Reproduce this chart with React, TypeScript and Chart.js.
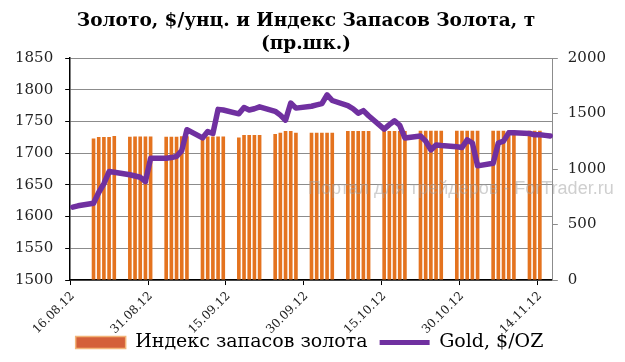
import React, { useEffect, useRef } from 'react';
import { Chart, registerables } from 'chart.js';

Chart.register(...registerables);

const titleLines = ['Золото, $/унц. и Индекс Запасов Золота, т', '(пр.шк.)'];
const barLabel = 'Индекс запасов золота';
const lineLabel = 'Gold, $/OZ';
const watermark = 'Портал для трейдеров - ForTrader.ru';

const dates = [
  '16.08.12', '17.08.12', '18.08.12', '19.08.12', '20.08.12', '21.08.12', '22.08.12', '23.08.12',
  '24.08.12', '25.08.12', '26.08.12', '27.08.12', '28.08.12', '29.08.12', '30.08.12', '31.08.12',
  '01.09.12', '02.09.12', '03.09.12', '04.09.12', '05.09.12', '06.09.12', '07.09.12', '08.09.12',
  '09.09.12', '10.09.12', '11.09.12', '12.09.12', '13.09.12', '14.09.12', '15.09.12', '16.09.12',
  '17.09.12', '18.09.12', '19.09.12', '20.09.12', '21.09.12', '22.09.12', '23.09.12', '24.09.12',
  '25.09.12', '26.09.12', '27.09.12', '28.09.12', '29.09.12', '30.09.12', '01.10.12', '02.10.12',
  '03.10.12', '04.10.12', '05.10.12', '06.10.12', '07.10.12', '08.10.12', '09.10.12', '10.10.12',
  '11.10.12', '12.10.12', '13.10.12', '14.10.12', '15.10.12', '16.10.12', '17.10.12', '18.10.12',
  '19.10.12', '20.10.12', '21.10.12', '22.10.12', '23.10.12', '24.10.12', '25.10.12', '26.10.12',
  '27.10.12', '28.10.12', '29.10.12', '30.10.12', '31.10.12', '01.11.12', '02.11.12', '03.11.12',
  '04.11.12', '05.11.12', '06.11.12', '07.11.12', '08.11.12', '09.11.12', '10.11.12', '11.11.12',
  '12.11.12', '13.11.12', '14.11.12', '15.11.12', '16.11.12',
];

// Gold, $/oz (left axis); null = weekend
const goldValues: (number | null)[] = [
  1615, 1617, null, null,
  1621, 1638, 1652, 1671, 1670, null, null,
  1666, 1664, 1662, 1655, 1692, null, null,
  1692, 1693, 1695, 1704, 1737, null, null,
  1724, 1734, 1731, 1769, 1768, null, null,
  1762, 1772, 1768, 1770, 1773, null, null,
  1766, 1760, 1752, 1779, 1771, null, null,
  1774, 1776, 1778, 1792, 1783, null, null,
  1775, 1770, 1763, 1767, 1759, null, null,
  1738, 1745, 1751, 1744, 1724, null, null,
  1727, 1719, 1705, 1713, 1712, null, null,
  1710, 1709, 1721, 1716, 1680, null, null,
  1684, 1716, 1719, 1732, 1732, null, null,
  1731, 1729, 1729, 1728, 1727,
];

// Gold stock index, t (right axis); null = no data
const indexValues: (number | null)[] = [
  null, null, null, null,
  1276, 1288, 1288, 1288, 1297, null, null,
  1291, 1292, 1292, 1292, 1292, null, null,
  1291, 1291, 1291, 1295, 1295, null, null,
  1292, 1292, 1292, 1292, 1292, null, null,
  1285, 1306, 1306, 1306, 1306, null, null,
  1315, 1327, 1342, 1342, 1327, null, null,
  1327, 1327, 1327, 1327, 1327, null, null,
  1342, 1342, 1342, 1342, 1342, null, null,
  1342, 1342, 1342, 1342, 1342, null, null,
  1345, 1345, 1345, 1345, 1345, null, null,
  1345, 1345, 1345, 1345, 1345, null, null,
  1345, 1345, 1345, 1345, 1345, null, null,
  1345, 1345, 1345, null, null,
];

const leftMin = 1500;
const leftMax = 1850;
const leftStep = 50;
const rightMin = 0;
const rightMax = 2000;
const rightStep = 500;
const labelEvery = 15;

const BAR_COLOR = '#E4731F';
const LINE_COLOR = '#7030A0';
const GRID_COLOR = '#8C8C8C';
const SERIF = '"DejaVu Serif", serif';

const titlePlugin = {
  id: 'customTitle',
  afterDraw(chart: any) {
    const ctx = chart.ctx;
    ctx.save();
    ctx.font = 'bold 18.5px "DejaVu Serif", serif';
    ctx.fillStyle = '#000';
    ctx.textAlign = 'center';
    ctx.textBaseline = 'middle';
    ctx.fillText(titleLines[0], 306, 21);
    ctx.fillText(titleLines[1], 306, 44);
    ctx.restore();
  },
};

const watermarkPlugin = {
  id: 'watermark',
  afterDraw(chart: any) {
    const ctx = chart.ctx;
    ctx.save();
    ctx.font = '18px "Liberation Sans", Arial, sans-serif';
    ctx.fillStyle = 'rgba(160,160,160,0.5)';
    ctx.textBaseline = 'middle';
    ctx.textAlign = 'left';
    ctx.fillText(watermark, 308, 189);
    ctx.restore();
  },
};

export default function App() {
  const canvasRef = useRef<HTMLCanvasElement | null>(null);

  useEffect(() => {
    if (!canvasRef.current) return;
    const chart = new Chart(canvasRef.current, {
      type: 'bar',
      data: {
        labels: dates,
        datasets: [
          {
            type: 'bar',
            label: barLabel,
            data: indexValues,
            yAxisID: 'y2',
            backgroundColor: BAR_COLOR,
            borderWidth: 0,
            barPercentage: 0.7,
            categoryPercentage: 1.0,
            order: 2,
          },
          {
            type: 'line',
            label: lineLabel,
            data: goldValues,
            yAxisID: 'y',
            borderColor: LINE_COLOR,
            backgroundColor: LINE_COLOR,
            borderWidth: 5.5,
            pointRadius: 0,
            pointStyle: 'line',
            spanGaps: true,
            tension: 0,
            borderJoinStyle: 'round',
            borderCapStyle: 'round',
            order: 1,
          } as any,
        ],
      },
      options: {
        responsive: false,
        animation: false,
        layout: { padding: { left: 3, right: 9, top: 58, bottom: 0 } },
        plugins: {
          title: { display: false },
          legend: {
            position: 'bottom',
            labels: {
              usePointStyle: true,
              pointStyleWidth: 50,
              boxHeight: 12,
              color: '#000',
              font: { family: SERIF, size: 19 },
              padding: 0,
              sort: (a: any, b: any) => a.datasetIndex - b.datasetIndex,
              generateLabels: (chart: any) => {
                const items = Chart.defaults.plugins.legend.labels.generateLabels(chart);
                return items.map((it: any) => {
                  if (it.datasetIndex === 0) {
                    return {
                      ...it,
                      text: it.text + '  ',
                      pointStyle: 'rect',
                      fillStyle: '#D4603A',
                      strokeStyle: '#F2B478',
                      lineWidth: 1.5,
                    };
                  }
                  return { ...it, pointStyle: 'line', fillStyle: LINE_COLOR, strokeStyle: LINE_COLOR, lineWidth: 5 };
                });
              },
            },
          },
          tooltip: { enabled: false },
        },
        scales: {
          x: {
            type: 'category',
            offset: true,
            afterFit: (scale: any) => {
              scale.paddingLeft = 0;
              scale.paddingRight = 0;
              scale.height = scale.height - 8;
            },
            grid: {
              offset: true,
              drawOnChartArea: false,
              drawTicks: true,
              tickLength: 5,
              color: (ctx: any) => (ctx.index % labelEvery === 0 ? '#000' : 'rgba(0,0,0,0)'),
            },
            border: { display: true, color: '#000', width: 1.5 },
            ticks: {
              autoSkip: false,
              maxRotation: 45,
              minRotation: 45,
              padding: 4,
              color: '#222',
              font: { family: SERIF, size: 12 },
              callback: (_v: any, i: number) => (i % labelEvery === 0 ? dates[i] : ''),
            },
          },
          y: {
            position: 'left',
            min: leftMin,
            max: leftMax,
            ticks: {
              stepSize: leftStep,
              color: '#222',
              font: { family: SERIF, size: 15 },
              padding: 12,
              callback: (v: any) => String(v),
            },
            grid: { color: GRID_COLOR, tickColor: '#000', tickLength: 5, lineWidth: 1 },
            border: { color: '#000', width: 1.5 },
          },
          y2: {
            position: 'right',
            min: rightMin,
            max: rightMax,
            ticks: {
              stepSize: rightStep,
              color: '#222',
              font: { family: SERIF, size: 15 },
              padding: 10,
              callback: (v: any) => String(v),
            },
            grid: { drawOnChartArea: false, tickColor: GRID_COLOR, tickLength: 5 },
            border: { color: GRID_COLOR, width: 1 },
          },
        },
      },
      plugins: [titlePlugin, watermarkPlugin],
    } as any);
    return () => chart.destroy();
  }, []);

  return (
    <div style={{ position: 'fixed', left: 0, top: 0, width: 625, height: 362, background: '#fff' }}>
      <canvas ref={canvasRef} width={625} height={362} />
    </div>
  );
}
